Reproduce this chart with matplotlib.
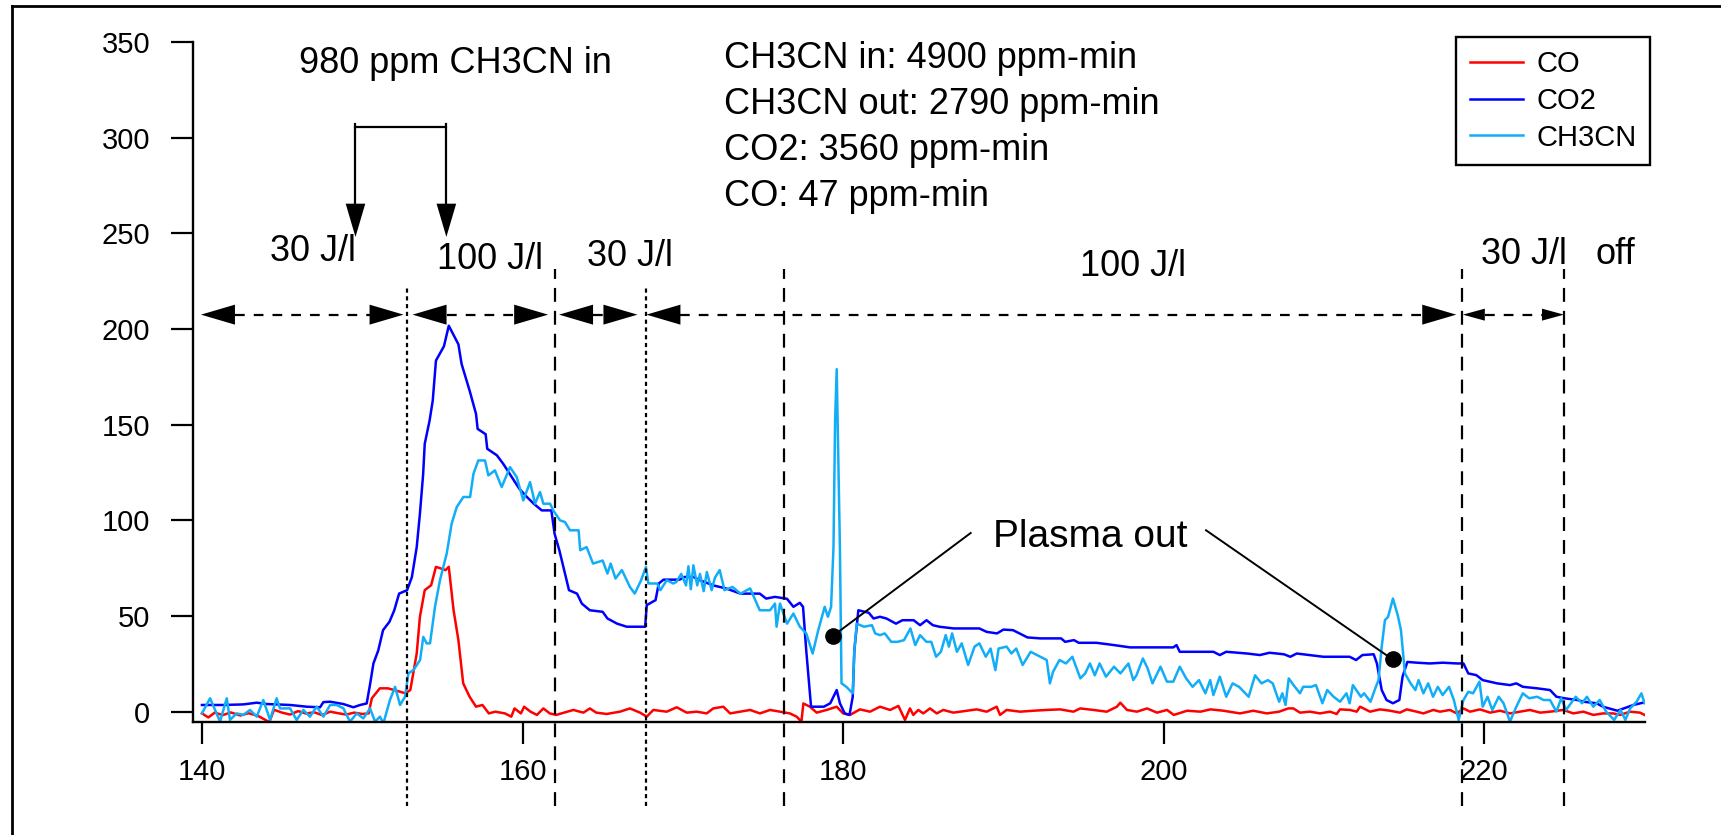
import matplotlib

matplotlib.use("Agg")
import matplotlib.pyplot as plt
from matplotlib.lines import Line2D

plt.rcParams["font.family"] = ["Liberation Sans", "DejaVu Sans"]
plt.rcParams["lines.scale_dashes"] = False

# time (min) and concentration (ppm)
co2_t = [140.0, 141.34, 142.59, 143.42, 144.04, 145.5, 146.54, 147.37, 147.58, 148.0, 148.82, 149.45,
         149.87, 150.28, 150.5, 150.7, 151.0, 151.3, 151.7, 152.0, 152.3, 152.8, 153.1, 153.4, 153.6,
         153.8, 153.9, 154.2, 154.4, 154.6, 155.1, 155.4, 156.0, 156.2, 156.7, 157.1, 157.2, 157.7,
         157.8, 158.4, 158.8, 159.2, 159.8, 160.3, 160.7, 161.2, 161.8, 162.0, 162.3, 162.6, 162.9,
         163.4, 163.7, 164.2, 165.0, 165.3, 165.9, 166.5, 167.65, 167.75, 168.3, 168.5, 168.8, 169.8,
         170.1, 170.66, 171.07, 171.9, 172.7, 173.6, 174.8, 175.2, 175.75, 176.5, 176.9, 177.3, 177.5,
         177.7, 178.0, 178.8, 179.2, 179.6, 179.8, 180.1, 180.4, 180.6, 180.7, 180.95, 181.6, 181.9,
         182.3, 182.7, 183.3, 183.7, 184.4, 184.8, 185.2, 185.6, 186.0, 186.9, 188.5, 188.96, 189.6,
         190.0, 190.6, 191.0, 191.5, 192.3, 193.6, 193.85, 194.4, 194.7, 195.8, 196.9, 197.9, 200.6,
         200.8, 201.0, 203.1, 203.5, 203.9, 205.2, 206.0, 206.6, 207.5, 207.9, 208.3, 209.1, 209.96,
         211.6, 212.0, 212.4, 213.1, 213.3, 213.6, 213.9, 214.3, 214.7, 214.9, 215.2, 215.8, 216.6,
         217.4, 218.3, 218.7, 219.0, 219.5, 219.9, 220.8, 221.6, 222.0, 222.4, 223.3, 224.1, 224.5,
         225.0, 225.8, 226.2, 227.0, 227.4, 228.3, 228.7, 229.3, 229.9]
co2 = [3.5, 3.5, 3.8, 4.7, 4.0, 3.5, 2.6, 2.3, 5.0, 5.2, 4.0, 2.3,
       3.5, 4.3, 14.8, 25.2, 32.0, 42.6, 47.0, 53.0, 61.7, 63.5, 70.4, 86.0, 103.5,
       124.0, 140.0, 152.0, 162.6, 183.5, 191.0, 201.7, 192.0, 181.7, 167.8, 155.6, 147.8, 145.0,
       137.4, 134.0, 129.5, 124.3, 116.5, 112.0, 108.7, 105.2, 105.2, 93.0, 84.3, 74.0, 63.5,
       61.7, 56.5, 53.0, 52.2, 48.7, 46.0, 44.4, 44.4, 55.7, 58.3, 67.0, 69.0, 69.0,
       70.4, 70.4, 68.7, 66.0, 64.4, 61.7, 61.7, 59.1, 60.0, 59.0, 54.8, 56.9, 54.8,
       32.0, 2.6, 2.6, 4.4, 11.3, 4.4, -0.9, -1.7, 7.8, 32.0, 53.0, 51.7, 48.7,
       49.6, 48.7, 46.0, 47.8, 47.8, 45.2, 47.8, 45.2, 44.4, 43.5, 43.5, 41.7, 40.9,
       42.9, 42.6, 40.9, 38.8, 38.3, 38.3, 36.5, 37.4, 36.0, 36.0, 34.8, 33.6, 33.6,
       34.8, 31.3, 31.3, 29.6, 31.3, 30.4, 29.6, 30.8, 30.0, 28.7, 30.4, 29.6, 28.7,
       28.7, 27.0, 29.6, 30.0, 25.2, 11.3, 6.1, 4.4, 6.1, 18.3, 26.0, 25.6, 25.2,
       25.6, 25.2, 25.2, 20.0, 19.1, 16.5, 14.8, 13.9, 14.8, 13.0, 12.2, 11.3, 7.8,
       7.0, 6.1, 5.2, 4.4, 2.6, 0.5, 1.7, 3.5, 4.7]

ch3cn_t = [140.0, 140.51, 141.13, 141.55, 141.75, 142.17, 142.58, 143.0, 143.42, 143.83, 144.25, 144.66,
           144.87, 145.5, 145.91, 146.33, 146.74, 147.16, 147.58, 148.0, 148.41, 148.83, 149.24, 149.66,
           150.07, 150.49, 150.8, 151.11, 151.32, 151.73, 152.05, 152.36, 152.67, 152.88, 153.19, 153.61,
           153.81, 154.02, 154.23, 154.54, 154.85, 155.27, 155.58, 155.9, 156.31, 156.73, 156.94, 157.24,
           157.66, 157.87, 158.28, 158.7, 159.22, 159.64, 160.05, 160.47, 160.78, 161.09, 161.3, 161.72,
           161.92, 162.34, 162.65, 162.96, 163.5, 163.6, 164.0, 164.4, 165.0, 165.3, 165.5, 165.8,
           166.2, 166.7, 167.0, 167.4, 167.7, 167.85, 168.4, 168.6, 169.0, 169.4, 169.6, 169.9,
           170.2, 170.35, 170.5, 170.66, 170.9, 171.07, 171.3, 171.5, 171.8, 172.0, 172.3, 172.6,
           173.1, 173.6, 174.2, 174.8, 175.44, 175.75, 175.85, 176.06, 176.5, 176.9, 177.3, 177.7,
           178.1, 178.45, 178.85, 179.05, 179.25, 179.4, 179.5, 179.6, 179.7, 179.8, 179.9, 180.2,
           180.6, 180.7, 180.85, 181.3, 181.8, 182.0, 182.3, 182.6, 183.0, 183.4, 183.8, 184.2,
           184.5, 184.8, 185.2, 185.5, 185.8, 186.1, 186.4, 186.6, 186.8, 187.1, 187.4, 187.8,
           188.2, 188.5, 188.9, 189.2, 189.5, 189.7, 190.2, 190.5, 190.8, 191.2, 191.7, 192.3,
           192.7, 192.9, 193.1, 193.5, 193.9, 194.3, 194.8, 195.1, 195.4, 195.7, 196.0, 196.4,
           196.9, 197.3, 197.8, 198.1, 198.3, 198.7, 199.0, 199.3, 199.8, 200.2, 200.6, 201.0,
           201.4, 201.8, 202.2, 202.6, 202.9, 203.1, 203.5, 203.9, 204.3, 204.7, 205.3, 205.7,
           206.1, 206.5, 206.8, 207.2, 207.4, 207.6, 207.8, 208.1, 208.5, 208.7, 209.2, 209.5,
           209.9, 210.2, 210.6, 211.0, 211.4, 211.6, 211.8, 212.3, 212.5, 212.9, 213.2, 213.4,
           213.6, 213.8, 214.0, 214.3, 214.6, 214.8, 215.05, 215.4, 215.7, 215.9, 216.2, 216.5,
           216.8, 217.1, 217.4, 217.8, 218.1, 218.4, 218.7, 219.0, 219.3, 219.7, 219.9, 220.2,
           220.5, 220.9, 221.2, 221.6, 222.0, 222.4, 222.8, 223.3, 223.7, 224.1, 224.5, 224.8,
           225.1, 225.7, 226.1, 226.4, 226.8, 227.2, 227.6, 228.1, 228.5, 228.8, 229.1, 229.5,
           229.8, 230.0]
ch3cn = [-0.9, 7.0, -5.2, 7.0, -4.3, -0.9, -1.7, 0.9, -2.6, 6.1, -4.3, 7.0,
         1.7, 1.7, -4.3, 0.9, -2.6, 2.6, -2.6, 3.5, 3.5, 1.7, -5.2, -0.9,
         -3.5, 1.7, -5.2, -2.6, -6.1, 6.1, 13.0, 3.5, 7.8, 20.0, 21.7, 27.0,
         39.1, 35.7, 35.7, 54.8, 68.7, 82.6, 98.3, 107.0, 112.2, 112.2, 124.3, 131.3,
         131.3, 123.5, 126.1, 117.4, 127.8, 122.6, 110.4, 120.0, 108.7, 114.8, 108.7, 108.7,
         105.2, 100.0, 99.1, 94.8, 94.8, 84.4, 86.0, 77.4, 79.0, 72.2, 77.4, 69.6,
         74.0, 65.2, 61.7, 68.7, 75.7, 67.0, 67.0, 63.5, 68.7, 67.0, 67.8, 72.0,
         66.0, 76.0, 64.0, 76.5, 66.0, 72.0, 63.0, 73.0, 63.5, 70.0, 74.0, 63.5,
         65.2, 61.7, 64.4, 53.0, 53.0, 56.5, 44.4, 56.5, 46.0, 51.3, 44.4, 40.9,
         30.4, 42.6, 54.8, 49.6, 54.8, 86.0, 152.0, 179.0, 131.0, 86.0, 14.8, 13.0,
         9.6, 32.0, 46.0, 44.4, 45.2, 40.9, 40.0, 40.9, 36.5, 36.5, 37.4, 43.5,
         34.8, 40.0, 36.5, 36.5, 28.7, 31.3, 40.0, 34.0, 40.9, 31.3, 35.7, 24.4,
         34.0, 35.7, 28.7, 33.0, 21.7, 33.0, 34.0, 30.4, 33.0, 24.4, 31.3, 28.7,
         27.0, 14.8, 20.9, 27.0, 25.2, 28.7, 17.4, 20.0, 25.2, 19.0, 25.2, 18.3,
         23.5, 20.0, 25.2, 16.5, 19.0, 27.8, 22.6, 14.8, 23.5, 15.7, 15.7, 23.5,
         17.4, 13.0, 16.5, 9.6, 16.5, 8.7, 18.3, 7.8, 14.8, 13.0, 7.8, 19.0,
         14.8, 16.5, 14.8, 5.2, 9.6, 3.5, 17.4, 13.9, 9.6, 13.0, 13.0, 13.9,
         4.4, 11.3, 7.8, 5.2, 9.6, 4.4, 13.9, 7.8, 9.6, 5.2, 12.2, 16.5,
         34.0, 47.8, 49.6, 59.1, 50.4, 42.6, 20.0, 14.8, 11.3, 16.5, 9.6, 14.8,
         7.8, 13.0, 8.7, 13.0, 6.1, -4.3, 6.1, 10.4, 9.6, 15.7, 2.6, 7.8,
         0.9, 7.8, 4.4, -5.2, 2.6, 9.6, 7.0, 7.8, 6.1, 6.1, 0.0, 7.0,
         0.9, 7.8, 4.4, 7.8, 2.6, 6.1, 0.0, -4.3, 0.9, -4.3, 1.7, 5.2,
         9.6, 4.4]

co_t = [140.0, 140.4, 140.8, 141.3, 141.8, 142.4, 142.9, 143.5, 144.0, 144.2, 144.5, 145.0,
        145.5, 146.0, 146.5, 147.0, 147.5, 148.0, 148.5, 149.0, 149.5, 150.0, 150.4, 150.6,
        151.1, 151.6, 152.0, 152.7, 153.0, 153.4, 153.6, 153.9, 154.3, 154.6, 155.2, 155.4,
        155.7, 156.0, 156.3, 156.7, 157.1, 157.5, 157.9, 158.3, 158.9, 159.3, 159.5, 159.9,
        160.1, 160.5, 160.9, 161.3, 161.7, 162.1, 162.6, 163.17, 163.8, 164.2, 164.6, 165.25,
        166.08, 166.7, 167.33, 167.75, 168.16, 169.0, 169.62, 170.24, 170.87, 171.49, 171.9, 172.53,
        172.95, 173.57, 174.2, 174.81, 175.44, 176.06, 176.68, 177.1, 177.4, 177.52, 177.93, 178.35,
        178.97, 179.6, 180.0, 180.43, 181.05, 181.68, 182.3, 182.93, 183.45, 183.86, 184.17, 184.38,
        184.69, 185.0, 185.42, 185.84, 186.25, 186.88, 187.71, 188.33, 188.96, 189.58, 189.79, 190.2,
        191.04, 191.87, 192.71, 193.54, 194.37, 194.79, 195.62, 196.45, 197.08, 197.29, 197.71, 198.33,
        198.96, 199.58, 200.21, 200.63, 201.46, 202.29, 202.92, 203.72, 204.76, 205.59, 206.43, 207.2,
        207.77, 208.09, 208.5, 209.13, 209.75, 210.37, 210.79, 211.0, 211.62, 212.04, 212.25, 212.87,
        213.49, 214.12, 214.74, 215.16, 215.78, 216.2, 216.82, 217.24, 217.86, 218.28, 218.7, 219.11,
        219.73, 220.36, 220.98, 221.6, 222.23, 222.85, 223.48, 224.1, 224.93, 225.55, 226.18, 226.8,
        227.42, 228.05, 228.47, 229.09, 229.71, 230.0]
co = [-0.9, -3.0, -0.5, -1.8, -0.4, -2.0, -0.8, -2.2, -4.5, -5.5, 1.0, -0.5,
      -1.5, 0.3, -1.0, -0.3, -1.8, 0.0, -0.8, -1.5, -0.5, -1.2, -0.9, 7.0,
      12.2, 12.2, 11.3, 9.6, 11.3, 30.4, 49.6, 63.5, 66.1, 75.7, 74.0, 75.7,
      53.0, 37.4, 14.8, 7.8, 2.6, 3.5, -0.9, 0.0, -0.9, -2.6, 1.7, -0.9,
      2.6, 0.0, -1.7, 1.7, -0.9, -1.7, -0.5, 0.9, -0.5, 1.7, -0.5, -1.2,
      0.0, 1.7, -0.5, -2.6, 0.9, 0.0, 2.3, -0.5, 0.0, -0.9, 1.7, 2.6,
      -0.9, 0.0, 0.9, -0.9, 0.9, 0.0, -0.9, -2.6, -5.2, 4.3, 2.6, -0.5,
      0.9, 2.6, -0.9, -1.7, 1.2, 0.0, 2.6, 0.9, 3.0, -4.3, 1.7, -1.7,
      0.9, -0.9, 1.7, -0.9, 0.9, -0.5, 0.5, 1.2, 0.0, 2.6, -1.7, 0.9,
      0.0, 0.5, 0.9, 1.2, 0.0, 1.7, 0.9, 0.0, 2.6, 4.7, 0.9, 0.0,
      1.7, -0.5, 0.9, -1.7, 0.5, 0.0, 1.2, 0.5, -0.9, 0.5, -0.9, 0.0,
      1.7, 1.7, -0.5, 0.0, -0.9, 0.0, -1.2, 1.2, 0.9, 0.0, 2.6, 0.0,
      1.2, 0.5, -0.5, 1.2, 0.0, -0.9, 0.9, 0.0, 0.9, -0.9, 1.7, 0.0,
      1.2, -0.5, 0.5, -0.9, 0.0, 0.9, -0.5, 0.0, 0.9, -0.9, 0.0, -1.7,
      -0.9, -0.9, -1.7, 0.0, -0.5, -1.7]

series = [("CO", co_t, co, "#ff0000"),
          ("CO2", co2_t, co2, "#0000ff"),
          ("CH3CN", ch3cn_t, ch3cn, "#12adf7")]

x_ticks = [140, 160, 180, 200, 220]
y_ticks = [0, 50, 100, 150, 200, 250, 300, 350]

# phase boundaries (min); dotted = gas switch, dashed = energy change
boundaries = [(152.8, "dotted"), (162.0, "dashed"), (167.7, "dotted"),
              (176.3, "dashed"), (218.6, "dashed"), (225.0, "dashed")]
# double-headed span arrows: left tip, right tip, head size
spans = [(139.94, 152.58, "big"), (153.14, 161.6, "big"), (162.28, 167.17, "big"),
         (167.73, 218.25, "big"), (218.66, 224.97, "small")]
span_labels = [("30 J/l", 146.9, 235.6), ("100 J/l", 158.0, 231.5), ("30 J/l", 166.7, 233.0),
               ("100 J/l", 198.1, 227.8), ("30 J/l", 222.5, 234.0), ("off", 228.2, 234.0)]
stats = ["CH3CN in: 4900 ppm-min", "CH3CN out: 2790 ppm-min",
         "CO2: 3560 ppm-min", "CO: 47 ppm-min"]
stats_y = [336.3, 312.3, 288.3, 264.3]
inlet_arrows = [149.58, 155.25]
plasma_out = [(179.35, 39.5, 187.96, 93.4), (214.28, 27.3, 202.64, 94.8)]

W, H = 1721, 835
fig = plt.figure(figsize=(W / 100, H / 100), dpi=100, facecolor="white")
ax = fig.add_axes([193.1 / W, 1 - 722.2 / H, (1644.6 - 193.1) / W, (722.2 - 42.0) / H])
xlim = (139.45, 230.0)
ylim = (-5.5, 350.0)
ax.set_xlim(*xlim)
ax.set_ylim(*ylim)
px_x = (xlim[1] - xlim[0]) / (1644.6 - 193.1)
px_y = (ylim[1] - ylim[0]) / (722.2 - 42.0)

handles = []
for name, t, v, colour in series:
    (line,) = ax.plot(t, v, color=colour, linewidth=1.8, label=name)
    handles.append(line)

for spine in ("top", "right"):
    ax.spines[spine].set_visible(False)
for spine in ("left", "bottom"):
    ax.spines[spine].set_linewidth(1.7)
ax.set_xticks(x_ticks)
ax.set_yticks(y_ticks)
ax.tick_params(axis="both", direction="out", length=16, width=1.6, labelsize=21)
ax.tick_params(axis="x", pad=10)
ax.tick_params(axis="y", pad=15)

dash_styles = {"dotted": (0, (3.0, 2.6)), "dashed": (0, (10, 6.5))}
for x, style in boundaries:
    top = 221.5 if style == "dotted" else 231.4
    ax.plot([x, x], [-49.3, top], color="black", linewidth=1.6,
            linestyle=dash_styles[style], clip_on=False, zorder=3)

span_y = 207.5
head_sizes = {"big": (34, 10), "small": (22, 6)}
for left, right, size in spans:
    length_px, half_px = head_sizes[size]
    hl = length_px * px_x
    hh = half_px * px_y
    ax.plot([left + hl, right - hl], [span_y, span_y], color="black", linewidth=1.6,
            linestyle=(0, (7, 6.5)), zorder=4)
    ax.fill([left, left + hl, left + hl], [span_y, span_y + hh, span_y - hh],
            color="black", zorder=4, linewidth=0)
    ax.fill([right, right - hl, right - hl], [span_y, span_y + hh, span_y - hh],
            color="black", zorder=4, linewidth=0)

for text, x, y in span_labels:
    ax.text(x, y, text, fontsize=26, ha="center", va="baseline")

# bracket with two downward arrows for the acetonitrile inlet
tip_y = 248.1
head_len = 17.4
head_half = 9.8 * px_x
ax.plot([inlet_arrows[0], inlet_arrows[0], inlet_arrows[1], inlet_arrows[1]],
        [tip_y + head_len, 305.5, 305.5, tip_y + head_len], color="black", linewidth=1.6)
ax.plot([inlet_arrows[0], inlet_arrows[0]], [305.5, 307.2], color="black", linewidth=1.6)
ax.plot([inlet_arrows[1], inlet_arrows[1]], [305.5, 307.2], color="black", linewidth=1.6)
for x in inlet_arrows:
    ax.fill([x, x - head_half, x + head_half], [tip_y, tip_y + head_len, tip_y + head_len],
            color="black", linewidth=0)
ax.text(155.8, 333.7, "980 ppm CH3CN in", fontsize=26, ha="center", va="baseline")

for text, y in zip(stats, stats_y):
    ax.text(172.6, y, text, fontsize=26, ha="left", va="baseline")

for dot_x, dot_y, end_x, end_y in plasma_out:
    ax.plot([dot_x, end_x], [dot_y, end_y], color="black", linewidth=1.4, zorder=5)
    ax.plot([dot_x], [dot_y], marker="o", markersize=11, color="black", zorder=6)
ax.text(195.4, 86.1, "Plasma out", fontsize=28, ha="center", va="baseline")

legend = ax.legend(handles=handles, loc="upper right",
                   bbox_to_anchor=(1650 / W, 1 - 37 / H), bbox_transform=fig.transFigure,
                   fontsize=21, frameon=True, fancybox=False, framealpha=1,
                   edgecolor="black", borderpad=0.45, labelspacing=0.3,
                   handlelength=1.85, handletextpad=0.45, borderaxespad=0)
legend.get_frame().set_linewidth(1.7)

# outer frame (only left and top edges are visible in the source)
fig.add_artist(Line2D([11.5 / W, 11.5 / W], [0, 1 - 6 / H], color="black", linewidth=2.0))
fig.add_artist(Line2D([11.5 / W, 1], [1 - 6 / H, 1 - 6 / H], color="black", linewidth=2.0))

fig.savefig("out.png", dpi=100, facecolor="white")
